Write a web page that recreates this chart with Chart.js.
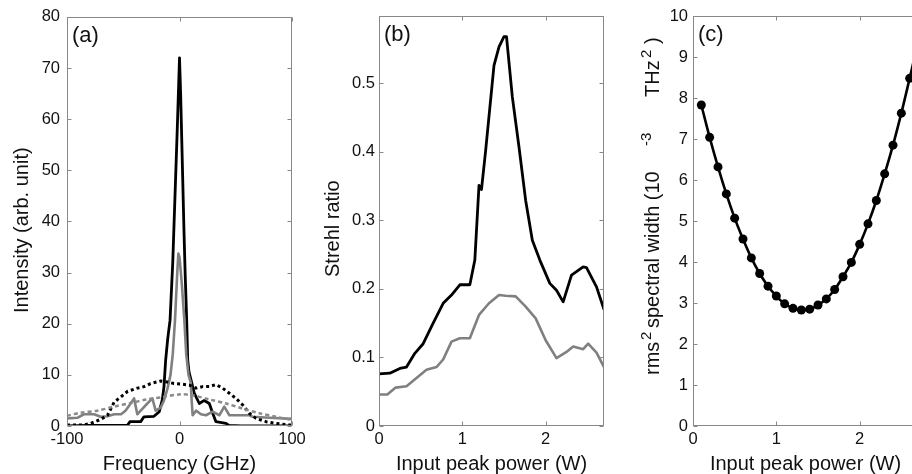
<!DOCTYPE html>
<html><head><meta charset="utf-8">
<script src="https://cdn.jsdelivr.net/npm/chart.js@4.4.1/dist/chart.umd.min.js"></script>
<style>
html,body{margin:0;padding:0;background:#fff;overflow:hidden;width:912px;height:474px;}
canvas{position:absolute;top:0;}
</style></head><body>
<canvas id="ca" width="330" height="474" style="left:0px"></canvas>
<canvas id="cb" width="340" height="474" style="left:300px"></canvas>
<canvas id="cc" width="330" height="474" style="left:600px"></canvas>
<script>
// ---------- Panel (a): spectra ----------
const freqBlack = [-100,-80,-60,-50,-46.4,-44,-34.5,-31.6,-22.7,-18,-15.3,-13.8,-12.3,-10.5,-8.4,-6,-4,-2,-1,0,1,2,3,4,5,6.4,7.3,8.5,10,13.2,17.6,22,26.5,29.5,32.4,41.3,44,55,80,100];
const intBlack  = [0,0.1,0.1,0.1,0.1,0.85,0.85,1.8,1.9,2.8,5.1,7.7,12.9,17,20.7,32,45,58,65,72,65,56,47,38,30,20.7,12.9,10.5,9.2,6.4,4.4,5.0,4.4,2.5,0.85,0.5,0.1,0,0,0];
const freqGrey = [-100,-90.8,-85,-76,-70,-64,-58,-52,-48,-43.4,-40.4,-37.5,-34.5,-28.6,-24.1,-21.2,-16.7,-13.8,-10.8,-8,-6,-4,-2,-1,0,2,4.3,6,8,10,10.8,11.7,14.7,19.1,23.6,29.5,35.4,39.8,44.3,50,62,65,80,100];
const intGrey  = [1.5,1.6,2.3,2.3,1.8,1.9,2.3,2.3,3.0,4.4,5.4,2.3,3.0,4.4,5.4,3.0,3.6,5.0,7.2,10,14,20.7,30,33.7,33,28,20.7,14,10,8.5,5,2.1,3.0,2.3,2.1,2.8,2.1,3.8,2.1,2.1,2.1,1.8,1.6,1.4];
const freqDot = [-100,-85,-79,-70,-64,-58,-52,-46,-37.5,-31.6,-25.7,-16.7,-10.8,-4.9,1.1,8.7,14.7,20.6,26.5,32.4,38.4,44.3,50.2,56.2,62,68,76.9,85.8,97.6,100];
const intDot  = [0.2,0.2,0.5,1.3,2.1,4.7,5.7,6.8,7.4,7.7,8.3,8.8,8.6,8.3,8.2,8.0,7.4,7.7,7.7,8.1,7.4,6.4,5.4,4.1,2.5,1.5,0.85,0.5,0.2,0.2];
const freqDash = [-100,-87.9,-73,-58,-43.4,-28.6,-13.8,1.1,11.7,26.5,41.3,56.2,71,85.8,100];
const intDash  = [2.0,2.6,3.0,3.8,4.5,5.2,5.7,6.2,6.0,5.2,4.4,3.4,2.5,1.8,1.2];

// ---------- Panel (b): Strehl ratio ----------
const powerB = [0,0.13,0.25,0.33,0.43,0.53,0.65,0.77,0.87,0.97,1.09,1.15,1.2,1.23,1.28,1.38,1.44,1.5,1.53,1.6,1.68,1.76,1.84,1.93,2.05,2.13,2.21,2.31,2.45,2.49,2.61,2.7];
const strehlBlack = [0.076,0.077,0.084,0.086,0.106,0.12,0.15,0.179,0.191,0.206,0.206,0.242,0.351,0.345,0.402,0.526,0.553,0.568,0.568,0.48,0.407,0.329,0.271,0.242,0.208,0.198,0.181,0.22,0.232,0.231,0.203,0.17];
const powerG = [0,0.1,0.2,0.33,0.45,0.57,0.69,0.77,0.87,0.97,1.09,1.2,1.32,1.44,1.52,1.64,1.76,1.88,2.0,2.13,2.25,2.33,2.45,2.51,2.61,2.7];
const strehlGrey = [0.046,0.046,0.056,0.058,0.07,0.082,0.086,0.097,0.123,0.128,0.128,0.162,0.179,0.191,0.19,0.189,0.174,0.157,0.125,0.099,0.108,0.116,0.112,0.12,0.107,0.086];

// ---------- Panel (c): rms^2 spectral width ----------
const powerC = [0.1,0.2,0.3,0.4,0.5,0.6,0.7,0.8,0.9,1.0,1.1,1.2,1.3,1.4,1.5,1.6,1.7,1.8,1.9,2.0,2.1,2.2,2.3,2.4,2.5,2.6,2.7];
const widthC = [7.83,7.04,6.32,5.66,5.07,4.56,4.1,3.72,3.41,3.17,2.98,2.87,2.83,2.85,2.95,3.1,3.33,3.64,3.99,4.43,4.93,5.5,6.15,6.85,7.63,8.48,9.35];

// ---------- text ----------
const panelLabels = ['(a)','(b)','(c)'];
const xTitleA = 'Frequency (GHz)';
const yTitleA = 'Intensity (arb. unit)';
const xTitleB = 'Input peak power (W)';
const yTitleB = 'Strehl ratio';
const xTitleC = 'Input peak power (W)';

const FONT = "'Liberation Sans', Arial, sans-serif";
const GREY = '#808080';

function pts(xs, ys){ return xs.map((v,i)=>({x:v, y:ys[i]})); }

const framePlugin = {
  id:'frame',
  afterDatasetsDraw(chart, args, opts){
    const {ctx, chartArea:a} = chart;
    const sx = chart.scales.x, sy = chart.scales.y;
    ctx.save();
    ctx.strokeStyle = '#888'; ctx.lineWidth = 1;
    const L = Math.round(a.left)+0.5, R = Math.round(a.right)-0.5, T = Math.round(a.top)+0.5, B = Math.round(a.bottom)-0.5;
    ctx.strokeRect(L, T, R-L, B-T);
    ctx.beginPath();
    sx.ticks.forEach(t=>{
      const p = Math.round(sx.getPixelForValue(t.value))+0.5;
      ctx.moveTo(p,B); ctx.lineTo(p,B-4);
      ctx.moveTo(p,T); ctx.lineTo(p,T+4);
    });
    sy.ticks.forEach(t=>{
      const p = Math.round(sy.getPixelForValue(t.value))+0.5;
      ctx.moveTo(L,p); ctx.lineTo(L+4,p);
      ctx.moveTo(R,p); ctx.lineTo(R-4,p);
    });
    ctx.stroke();
    ctx.fillStyle = '#111';
    ctx.font = '22px ' + FONT;
    ctx.textBaseline = 'alphabetic';
    ctx.textAlign = 'left';
    ctx.fillText(opts.label, a.left + 5, a.top + 25);
    if (opts.yTitlePieces){
      ctx.translate(opts.yTitleX, 0);
      ctx.rotate(-Math.PI/2);
      opts.yTitlePieces.forEach(p=>{
        ctx.font = (p.sup ? '15px ' : '20px ') + FONT;
        ctx.fillText(p.t, -p.y, p.sup ? -8 : 0);
      });
    }
    ctx.restore();
  }
};

function makeScales(o){
  return {
    x:{type:'linear', min:o.xmin, max:o.xmax,
       grid:{display:false, drawTicks:false}, border:{display:false},
       ticks:{stepSize:o.xstep, includeBounds:false, padding:4, color:'#111', font:{family:FONT, size:16.5}},
       title:{display:true, text:o.xtitle, color:'#111', font:{family:FONT, size:20, lineHeight:1}, padding:{top:0,bottom:0}},
       afterFit(s){ s.height = 48; }},
    y:{type:'linear', min:o.ymin, max:o.ymax,
       grid:{display:false, drawTicks:false}, border:{display:false},
       ticks:{stepSize:o.ystep, includeBounds:false, padding:o.ypad, color:'#111', font:{family:FONT, size:16.5}},
       afterFit(s){ s.width = o.yw; }}
  };
}

const common = {
  responsive:false, animation:false, devicePixelRatio:1,
  elements:{point:{radius:0}, line:{tension:0, borderCapStyle:'butt', borderJoinStyle:'round'}}
};

new Chart(document.getElementById('ca'), {
  type:'line',
  data:{datasets:[
    {data:pts(freqDash,intDash), borderColor:'#8a8a8a', borderWidth:2.5, borderDash:[4,3], tension:0.3},
    {data:pts(freqDot,intDot), borderColor:'#000', borderWidth:3, borderDash:[3,3]},
    {data:pts(freqGrey,intGrey), borderColor:GREY, borderWidth:2.6},
    {data:pts(freqBlack,intBlack), borderColor:'#000', borderWidth:2.8}
  ]},
  options:Object.assign({}, common, {
    layout:{padding:{top:16, right:38, left:0, bottom:0}},
    scales:makeScales({xmin:-100,xmax:100,xstep:100,ymin:0,ymax:80,ystep:10,ypad:7,yw:67,xtitle:xTitleA}),
    plugins:{legend:{display:false}, tooltip:{enabled:false}, frame:{
      label:panelLabels[0], yTitleX:28,
      yTitlePieces:[{t:yTitleA, y:313}]}}
  }),
  plugins:[framePlugin]
});

new Chart(document.getElementById('cb'), {
  type:'line',
  data:{datasets:[
    {data:pts(powerG,strehlGrey), borderColor:GREY, borderWidth:2.6},
    {data:pts(powerB,strehlBlack), borderColor:'#000', borderWidth:2.8}
  ]},
  options:Object.assign({}, common, {
    layout:{padding:{top:16, right:36, left:0, bottom:0}},
    scales:makeScales({xmin:0,xmax:2.7,xstep:1,ymin:0,ymax:0.598,ystep:0.1,ypad:4,yw:79,xtitle:xTitleB}),
    plugins:{legend:{display:false}, tooltip:{enabled:false}, frame:{
      label:panelLabels[1], yTitleX:39,
      yTitlePieces:[{t:yTitleB, y:277}]}}
  }),
  plugins:[framePlugin]
});

new Chart(document.getElementById('cc'), {
  type:'line',
  data:{datasets:[
    {data:pts(powerC,widthC), borderColor:'#000', borderWidth:2.6, cubicInterpolationMode:'monotone',
     pointRadius:4.5, pointBackgroundColor:'#000', pointBorderColor:'#000', pointBorderWidth:0}
  ]},
  options:Object.assign({}, common, {
    layout:{padding:{top:16, right:12, left:0, bottom:0}},
    scales:makeScales({xmin:0,xmax:2.7,xstep:1,ymin:0,ymax:10,ystep:1,ypad:5,yw:93,xtitle:xTitleC}),
    plugins:{legend:{display:false}, tooltip:{enabled:false}, frame:{
      label:panelLabels[2], yTitleX:59,
      yTitlePieces:[
        {t:'rms', y:375},
        {t:'2', y:340, sup:true},
        {t:'spectral width (10', y:328},
        {t:'-3', y:146, sup:true},
        {t:'THz', y:97},
        {t:'2', y:58, sup:true},
        {t:')', y:44}
      ]}}
  }),
  plugins:[framePlugin]
});
</script>
</body></html>
